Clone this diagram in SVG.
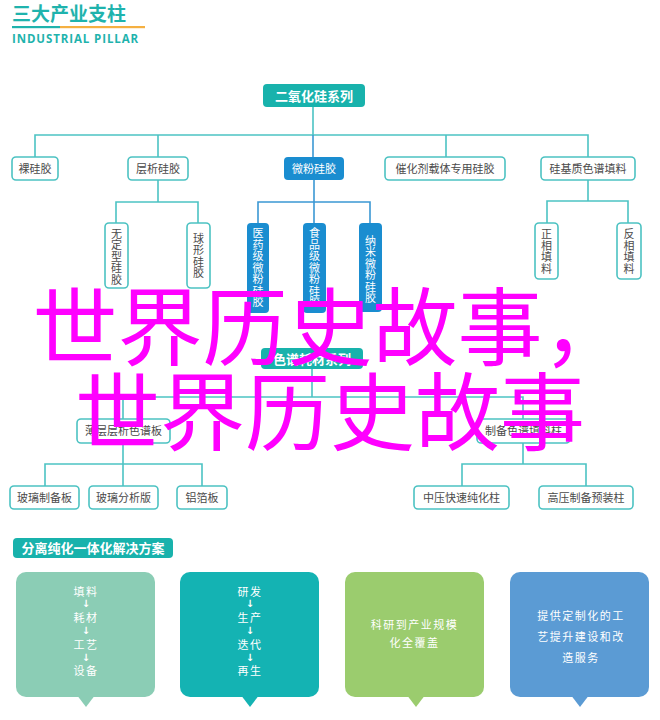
<svg xmlns="http://www.w3.org/2000/svg" width="660" height="720" viewBox="0 0 660 720">
<style>
.cjk{font-family:"Noto Sans CJK SC","Noto Sans",sans-serif}
.box{fill:#fff;stroke:#4cc2c2;stroke-width:1.6}
.tfill{fill:#18b2ac}
.bfill{fill:#1a8dd0}
.lt{fill:none;stroke:#4cc3c4;stroke-width:1.6}
.lb{fill:none;stroke:#3b98d4;stroke-width:1.6}
.lbl{font-family:"Noto Sans CJK SC","Noto Sans",sans-serif;font-size:11px;fill:#4a4a4a;text-anchor:middle}
.wl{font-family:"Noto Sans CJK SC","Noto Sans",sans-serif;font-size:11px;fill:#fff;text-anchor:middle}
.vt{writing-mode:vertical-rl;text-orientation:upright;letter-spacing:0.5px}
.hd{font-family:"Noto Sans CJK SC","Noto Sans",sans-serif;font-size:13px;font-weight:bold;fill:#fff;text-anchor:middle}
.ct{font-family:"Noto Sans CJK SC","Noto Sans",sans-serif;font-size:11px;fill:#fff;text-anchor:middle;letter-spacing:1.5px}
.ar{font-family:"DejaVu Sans",sans-serif;font-size:10px;font-weight:bold;fill:#fff;text-anchor:middle}
.mg{font-family:"Noto Sans CJK SC","Noto Sans",sans-serif;font-size:85px;fill:#ff00ff;text-anchor:middle}
</style>

<g id="header">
<text x="12" y="21" class="cjk" font-size="19" font-weight="bold" fill="#1fb3ad">三大产业支柱</text>
<rect x="12" y="26" width="48" height="2.2" fill="#1fb3ad"/>
<rect x="60" y="26" width="85" height="2.2" fill="#f5b041"/>
<text x="12" y="43" font-family="'Open Sans','Noto Sans',sans-serif" font-size="11.5" font-weight="bold" fill="#1fb3ad" letter-spacing="0.9">INDUSTRIAL PILLAR</text>
</g>

<g id="connectors">
<path class="lt" d="M313 107V135M35 157V135H588V157M158 135V157M446 135V157"/>
<path class="lb" d="M313 135V157"/>
<path class="lt" d="M158 180V202M116 223V202H198V223"/>
<path class="lb" d="M314 180V202M258 223V202H370V223M314 202V223"/>
<path class="lt" d="M588 180V201M547 223V201H628V223"/>
<path class="lt" d="M312 369V397M123 419V397H523V419"/>
<path class="lt" d="M123 443V464M45 486V464H202V486M123 464V486"/>
<path class="lt" d="M523 443V464M462 486V464H586V486"/>
</g>

<g id="n-root1"><rect x="263" y="84" width="102" height="23" rx="4" class="tfill"/><text x="314" y="100.5" class="hd">二氧化硅系列</text></g>

<g id="n-luo"><rect x="12" y="157" width="46" height="23" rx="4" class="box"/><text x="35" y="172.5" class="lbl">裸硅胶</text></g>
<g id="n-cengxi"><rect x="128" y="157" width="60" height="23" rx="4" class="box"/><text x="158" y="172.5" class="lbl">层析硅胶</text></g>
<g id="n-weifen"><rect x="284" y="157" width="60" height="23" rx="4" class="bfill"/><text x="314" y="172.5" class="wl">微粉硅胶</text></g>
<g id="n-cuihua"><rect x="385" y="157" width="120" height="23" rx="4" class="box"/><text x="445" y="172.5" class="lbl">催化剂载体专用硅胶</text></g>
<g id="n-guiji"><rect x="541" y="157" width="94" height="23" rx="4" class="box"/><text x="588" y="172.5" class="lbl">硅基质色谱填料</text></g>

<g id="n-wudingxing"><rect x="105" y="223" width="23" height="65" rx="4" class="box"/>
<text x="116.5" y="257" class="lbl vt">无定型硅胶</text></g>
<g id="n-qiuxing"><rect x="187" y="223" width="23" height="65" rx="4" class="box"/>
<text x="198.5" y="256" class="lbl vt">球形硅胶</text></g>

<g id="n-yiyao"><rect x="247" y="223" width="22" height="90" rx="4" class="bfill"/>
<text x="258" y="268" class="wl vt">医药级微粉硅胶</text></g>
<g id="n-shipin"><rect x="303" y="223" width="23" height="90" rx="4" class="bfill"/>
<text x="314.5" y="268" class="wl vt">食品级微粉硅胶</text></g>
<g id="n-nami"><rect x="359" y="223" width="23" height="89" rx="4" class="bfill"/>
<text x="370.5" y="269.5" class="wl vt">纳米微粉硅胶</text></g>

<g id="n-zhengxiang"><rect x="535" y="223" width="23" height="56" rx="4" class="box"/>
<text x="546.5" y="251.5" class="lbl vt">正相填料</text></g>
<g id="n-fanxiang"><rect x="617" y="223" width="24" height="56" rx="4" class="box"/>
<text x="629" y="251.5" class="lbl vt">反相填料</text></g>

<g id="n-root2"><rect x="261" y="348" width="102" height="21" rx="4" class="tfill"/><text x="312" y="363.5" class="hd" font-size="12.5">色谱耗材系列</text></g>

<g id="n-boceng"><rect x="77" y="419" width="93" height="24" rx="4" class="box"/><text x="123.5" y="435" class="lbl">薄层层析色谱板</text></g>
<g id="n-zhibei"><rect x="477" y="419" width="93" height="24" rx="4" class="box"/><text x="523.5" y="435" class="lbl">制备色谱填料柱</text></g>

<g id="n-boli1"><rect x="10" y="486" width="69" height="23" rx="4" class="box"/><text x="44.5" y="501.5" class="lbl">玻璃制备板</text></g>
<g id="n-boli2"><rect x="89" y="486" width="69" height="23" rx="4" class="box"/><text x="123.5" y="501.5" class="lbl">玻璃分析版</text></g>
<g id="n-lvbo"><rect x="177" y="486" width="50" height="23" rx="4" class="box"/><text x="202" y="501.5" class="lbl">铝箔板</text></g>
<g id="n-zhongya"><rect x="414" y="486" width="95" height="23" rx="4" class="box"/><text x="461.5" y="501.5" class="lbl">中压快速纯化柱</text></g>
<g id="n-gaoya"><rect x="539" y="486" width="94" height="23" rx="4" class="box"/><text x="586" y="501.5" class="lbl">高压制备预装柱</text></g>

<g id="section2-header"><rect x="13" y="538" width="160" height="20" rx="4" class="tfill"/><text x="93" y="552.5" class="hd" font-size="12.5">分离纯化一体化解决方案</text></g>

<g id="card1">
<rect x="16" y="572" width="139" height="125" rx="10" fill="#8bcdb5"/><path d="M78 696.5L86 707L94 696.5Z" fill="#8bcdb5"/>
<text x="86" y="596" class="ct">填料</text><text x="86" y="607" class="ar">↓</text>
<text x="86" y="622" class="ct">耗材</text><text x="86" y="634" class="ar">↓</text>
<text x="86" y="649" class="ct">工艺</text><text x="86" y="661" class="ar">↓</text>
<text x="86" y="675" class="ct">设备</text>
</g>
<g id="card2">
<rect x="180" y="572" width="139" height="125" rx="10" fill="#14b3b3"/><path d="M242 696.5L250 707L258 696.5Z" fill="#14b3b3"/>
<text x="250" y="596" class="ct">研发</text><text x="250" y="607" class="ar">↓</text>
<text x="250" y="622" class="ct">生产</text><text x="250" y="634" class="ar">↓</text>
<text x="250" y="649" class="ct">迭代</text><text x="250" y="661" class="ar">↓</text>
<text x="250" y="675" class="ct">再生</text>
</g>
<g id="card3">
<rect x="345" y="572" width="139" height="125" rx="10" fill="#9bcc6e"/><path d="M408 696.5L416 707L424 696.5Z" fill="#9bcc6e"/>
<text x="414.5" y="629" class="ct">科研到产业规模</text>
<text x="414.5" y="647" class="ct">化全覆盖</text>
</g>
<g id="card4">
<rect x="510" y="572" width="139" height="125" rx="10" fill="#5b9bd4"/><path d="M572 696.5L580 707L588 696.5Z" fill="#5b9bd4"/>
<text x="581" y="620" class="ct">提供定制化的工</text>
<text x="581" y="641" class="ct">艺提升建设和改</text>
<text x="581" y="662" class="ct">造服务</text>
</g>

<g id="overlay-text">
<text x="330" y="359" class="mg">世界历史故事，</text>
<text x="330" y="444" class="mg">世界历史故事</text>
</g>
</svg>
